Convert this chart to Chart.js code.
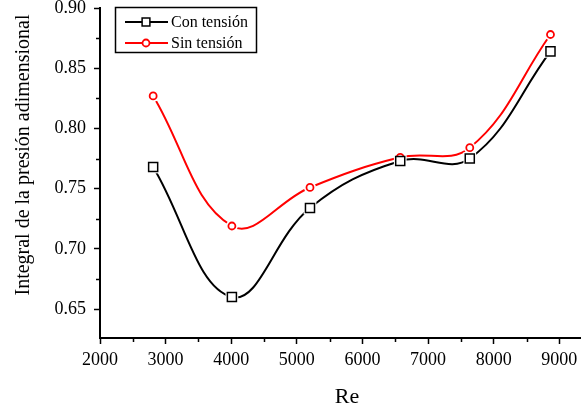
<!DOCTYPE html>
<html>
<head>
<meta charset="utf-8">
<script src="https://cdn.jsdelivr.net/npm/chart.js@4.4.1/dist/chart.umd.min.js"></script>
<style>
  html, body { margin: 0; padding: 0; background: #fff; }
</style>
</head>
<body>
<canvas id="presion_chart" width="581" height="412"></canvas>
<script>
// Reynolds number for each run
const re = [2810, 4010, 5200, 6575, 7635, 8865];
// dimensionless pressure integral
const conTension = [0.768, 0.660, 0.734, 0.773, 0.775, 0.864];
const sinTension = [0.827, 0.719, 0.751, 0.776, 0.784, 0.878];

const seriesNames = ['Con tensión', 'Sin tensión'];
const xTitle = 'Re';
const yTitle = 'Integral de la presión adimensional';

const xTicks = [2000, 3000, 4000, 5000, 6000, 7000, 8000, 9000];
const yTicks = [0.65, 0.70, 0.75, 0.80, 0.85, 0.90];
const xMinorTicks = [2500, 3500, 4500, 5500, 6500, 7500, 8500];
const yMinorTicks = [0.675, 0.725, 0.775, 0.825, 0.875];

const serif = '"Liberation Serif", "Times New Roman", serif';

function toPoints(ys) {
  return re.map((x, i) => ({ x: x, y: ys[i] }));
}

const lineStyle = {
  pointRadius: 0,
  borderWidth: 2,
  tension: 0.4,
  fill: false,
  order: 3
};

// white patch behind each marker so the curve stops short of it
const halo = (r) => ({
  showLine: false,
  pointRadius: r,
  pointBorderWidth: 0,
  pointBackgroundColor: '#fff',
  pointBorderColor: '#fff',
  order: 2
});

const datasets = [
  Object.assign({ data: toPoints(conTension), borderColor: '#000' }, lineStyle),
  Object.assign({ data: toPoints(sinTension), borderColor: '#ff0000' }, lineStyle),
  Object.assign({ data: toPoints(conTension), pointStyle: 'rect' }, halo(9)),
  Object.assign({ data: toPoints(sinTension), pointStyle: 'circle' }, halo(6)),
  {
    label: seriesNames[0],
    data: toPoints(conTension),
    showLine: false,
    pointStyle: 'rect',
    pointRadius: 6.4,
    pointBorderWidth: 1.5,
    pointBorderColor: '#000',
    pointBackgroundColor: '#fff',
    borderColor: '#000',
    order: 1
  },
  {
    label: seriesNames[1],
    data: toPoints(sinTension),
    showLine: false,
    pointStyle: 'circle',
    pointRadius: 3.5,
    pointBorderWidth: 1.8,
    pointBorderColor: '#ff0000',
    pointBackgroundColor: '#fff',
    borderColor: '#ff0000',
    order: 1
  }
];

// minor ticks, axis titles and the boxed legend
const extras = {
  id: 'extras',
  afterDraw(chart) {
    const { ctx, chartArea, scales } = chart;
    ctx.save();

    ctx.strokeStyle = '#000';
    ctx.lineWidth = 1.5;
    ctx.beginPath();
    xMinorTicks.forEach(v => {
      const px = Math.round(scales.x.getPixelForValue(v)) + 0.5;
      ctx.moveTo(px, chartArea.bottom);
      ctx.lineTo(px, chartArea.bottom + 4);
    });
    yMinorTicks.forEach(v => {
      const py = Math.round(scales.y.getPixelForValue(v)) + 0.5;
      ctx.moveTo(chartArea.left, py);
      ctx.lineTo(chartArea.left - 4, py);
    });
    ctx.stroke();

    ctx.fillStyle = '#000';
    ctx.textAlign = 'center';
    ctx.textBaseline = 'middle';
    ctx.font = '22px ' + serif;
    ctx.fillText(xTitle, 347, 397);

    ctx.save();
    ctx.translate(24, 155);
    ctx.rotate(-Math.PI / 2);
    ctx.font = '20px ' + serif;
    ctx.fillText(yTitle, 0, 0);
    ctx.restore();

    // legend
    ctx.fillStyle = '#fff';
    ctx.fillRect(115, 7, 142, 46);
    ctx.strokeStyle = '#000';
    ctx.lineWidth = 1.5;
    ctx.strokeRect(115.5, 7.5, 141, 45);

    ctx.font = '16px ' + serif;
    ctx.textAlign = 'left';
    ctx.textBaseline = 'middle';
    [4, 5].forEach((idx, row) => {
      const ds = chart.data.datasets[idx];
      const y = 22 + row * 21;
      ctx.strokeStyle = ds.pointBorderColor;
      ctx.lineWidth = 1.8;
      ctx.beginPath();
      ctx.moveTo(125, y);
      ctx.lineTo(168, y);
      ctx.stroke();
      ctx.fillStyle = '#fff';
      ctx.strokeStyle = ds.pointBorderColor;
      ctx.lineWidth = ds.pointBorderWidth;
      Chart.helpers.drawPoint(ctx, {
        pointStyle: ds.pointStyle,
        radius: ds.pointStyle === 'rect' ? 5.5 : 3.5,
        borderWidth: ds.pointBorderWidth,
        rotation: 0
      }, 146, y);
      ctx.fillStyle = '#000';
      ctx.fillText(ds.label, 171, y + 1);
    });

    ctx.restore();
  }
};

const ctx = document.getElementById('presion_chart');

new Chart(ctx, {
  type: 'line',
  data: { datasets: datasets },
  plugins: [extras],
  options: {
    responsive: false,
    animation: false,
    layout: { autoPadding: false, padding: { top: 8, left: 0, right: 0, bottom: 0 } },
    plugins: {
      legend: { display: false },
      tooltip: { enabled: false }
    },
    scales: {
      x: {
        type: 'linear',
        min: 2000,
        max: 9330,
        afterBuildTicks(scale) {
          scale.ticks = xTicks.map(v => ({ value: v }));
        },
        afterFit(scale) {
          scale.height = 74;
          scale.paddingLeft = 0;
          scale.paddingRight = 0;
        },
        ticks: {
          autoSkip: false,
          maxRotation: 0,
          padding: 5,
          color: '#000',
          font: { family: serif, size: 18 },
          callback: (v) => String(v)
        },
        grid: {
          drawOnChartArea: false,
          tickLength: 6,
          tickWidth: 1.5,
          tickColor: '#000'
        },
        border: { display: true, color: '#000', width: 2 }
      },
      y: {
        min: 0.626,
        max: 0.90,
        afterBuildTicks(scale) {
          scale.ticks = yTicks.map(v => ({ value: v }));
        },
        afterFit(scale) {
          scale.width = 100;
          scale.paddingTop = 0;
          scale.paddingBottom = 0;
        },
        ticks: {
          padding: 8,
          color: '#000',
          font: { family: serif, size: 18 },
          callback: (v) => v.toFixed(2)
        },
        grid: {
          drawOnChartArea: false,
          tickLength: 6,
          tickWidth: 1.5,
          tickColor: '#000'
        },
        border: { display: true, color: '#000', width: 2 }
      }
    }
  }
});
</script>
</body>
</html>
